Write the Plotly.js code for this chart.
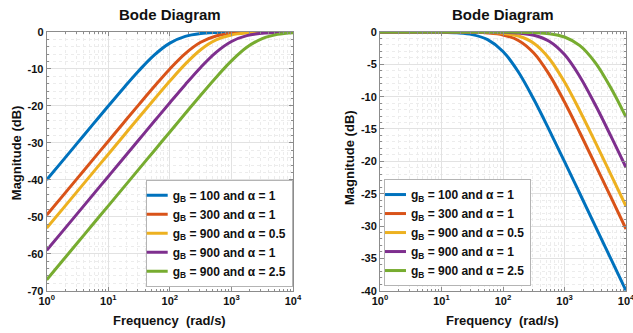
<!DOCTYPE html>
<html>
<head>
<meta charset="utf-8">
<script src="https://cdn.plot.ly/plotly-3.0.1.min.js"></script>
<style>html,body{margin:0;padding:0;background:#fff;}#chart{width:633px;height:333px;}</style>
</head>
<body>
<div id="chart"></div>
<script>
// Frequencies (rad/s)
const freq = [1, 1.778, 3.162, 5.623, 10, 17.78, 31.62, 56.23, 100, 177.8, 316.2, 562.3, 1000, 1778, 3162, 5623, 10000];

// Series names
const seriesNames = [
  'g<sub>B</sub> = 100 and α = 1',
  'g<sub>B</sub> = 300 and α = 1',
  'g<sub>B</sub> = 900 and α = 0.5',
  'g<sub>B</sub> = 900 and α = 1',
  'g<sub>B</sub> = 900 and α = 2.5'
];
const colors = ['#0072BD', '#D95319', '#EDB120', '#7E2F8E', '#77AC30'];

// Left panel magnitudes (dB)
const hpBlue   = [-40.0,-35.0,-30.0,-25.01,-20.04,-15.13,-10.41,-6.19,-3.01,-1.19,-0.41,-0.14,-0.04,-0.01,0,0,0];
const hpRed    = [-49.54,-44.54,-39.54,-34.54,-29.55,-24.55,-19.59,-14.69,-10.0,-5.85,-2.79,-1.09,-0.37,-0.12,-0.04,-0.01,0];
const hpYellow = [-53.06,-48.06,-43.06,-38.06,-33.06,-28.07,-23.08,-18.13,-13.27,-8.69,-4.80,-2.15,-0.80,-0.27,-0.09,-0.03,-0.01];
const hpPurple = [-59.08,-54.08,-49.08,-44.08,-39.08,-34.08,-29.09,-24.10,-19.13,-14.25,-9.59,-5.51,-2.57,-0.99,-0.34,-0.11,-0.04];
const hpGreen  = [-67.04,-62.04,-57.04,-52.04,-47.04,-42.04,-37.04,-32.05,-27.05,-22.07,-17.12,-12.30,-7.82,-4.15,-1.78,-0.65,-0.21];

// Right panel magnitudes (dB)
const lpBlue   = [0,0,0,-0.01,-0.04,-0.14,-0.41,-1.19,-3.01,-6.19,-10.41,-15.13,-20.04,-25.01,-30.0,-35.0,-40.0];
const lpRed    = [0,0,0,0,-0.01,-0.02,-0.05,-0.15,-0.46,-1.31,-3.25,-6.55,-10.83,-15.58,-20.50,-25.47,-30.46];
const lpYellow = [0,0,0,0,0,-0.01,-0.02,-0.07,-0.21,-0.63,-1.74,-4.09,-7.74,-12.21,-17.03,-21.97,-26.94];
const lpPurple = [0,0,0,0,0,0,-0.01,-0.02,-0.05,-0.17,-0.51,-1.43,-3.50,-6.91,-11.26,-16.03,-20.96];
const lpGreen  = [0,0,0,0,0,0,0,0,-0.01,-0.03,-0.09,-0.26,-0.78,-2.11,-4.74,-8.60,-13.17];

// Tick labels
const xTickVals = [1, 10, 100, 1000, 10000];
const xTickText = ['10<sup>0</sup>', '10<sup>1</sup>', '10<sup>2</sup>', '10<sup>3</sup>', '10<sup>4</sup>'];
const yLeftVals = [-70, -60, -50, -40, -30, -20, -10, 0];
const yLeftText = ['-70', '-60', '-50', '-40', '-30', '-20', '-10', '0'];
const yRightVals = [-40, -35, -30, -25, -20, -15, -10, -5, 0];
const yRightText = ['-40', '-35', '-30', '-25', '-20', '-15', '-10', '-5', '0'];

const FONT = 'Liberation Sans, Arial, Helvetica, sans-serif';
const AX = '#8c8c8c';
const bold = s => '<b>' + s + '</b>';

const minorX = [];
xTickVals.slice(0, -1).forEach(d => { for (let k = 2; k <= 9; k++) minorX.push(d * k); });

const leftSeries = [hpBlue, hpRed, hpYellow, hpPurple, hpGreen];
const rightSeries = [lpBlue, lpRed, lpYellow, lpPurple, lpGreen];

const traces = [];
leftSeries.forEach((ys, i) => traces.push({
  x: freq, y: ys, type: 'scatter', mode: 'lines', name: bold(seriesNames[i]),
  line: {color: colors[i], width: 3, shape: 'spline'},
  xaxis: 'x', yaxis: 'y', legend: 'legend'
}));
rightSeries.forEach((ys, i) => traces.push({
  x: freq, y: ys, type: 'scatter', mode: 'lines', name: bold(seriesNames[i]),
  line: {color: colors[i], width: 3, shape: 'spline'},
  xaxis: 'x2', yaxis: 'y2', legend: 'legend2'
}));

function xAxis(domain, anchor) {
  return {
    domain: domain, anchor: anchor, type: 'log', range: [0, 4],
    tickmode: 'array', tickvals: xTickVals, ticktext: xTickText.map(bold),
    showline: true, linecolor: AX, linewidth: 1, mirror: 'ticks',
    ticks: 'inside', ticklen: 4, tickcolor: AX,
    showgrid: true, gridcolor: '#e2e2e2', gridwidth: 1, zeroline: false,
    minor: {tickmode: 'array', tickvals: minorX, showgrid: true, gridcolor: '#ececec', griddash: 'dot', ticks: 'inside', ticklen: 2, tickcolor: AX},
    tickfont: {family: FONT, size: 11, color: '#111'},
    ticklabeloverflow: 'allow',
    automargin: false
  };
}
function yAxis(domain, anchor, range, vals, text, mdt) {
  return {
    domain: domain, anchor: anchor, range: range,
    tickmode: 'array', tickvals: vals, ticktext: text.map(bold),
    showline: true, linecolor: AX, linewidth: 1, mirror: 'ticks',
    ticks: 'inside', ticklen: 4, tickcolor: AX,
    showgrid: true, gridcolor: '#e2e2e2', gridwidth: 1, zeroline: false,
    minor: {tickmode: 'linear', tick0: 0, dtick: mdt, showgrid: true, gridcolor: '#ececec', griddash: 'dot', ticks: 'inside', ticklen: 2, tickcolor: AX},
    tickfont: {family: FONT, size: 11, color: '#111'},
    ticklabeloverflow: 'allow',
    automargin: false
  };
}

const legendBase = {
  bgcolor: '#ffffff', bordercolor: '#b4b4b4', borderwidth: 1,
  font: {family: FONT, size: 12, color: '#111'},
  tracegroupgap: 0, itemclick: false, indentation: -14
};

const yDom = [0.127, 0.904];
function ann(text, x, y, size, angle) {
  return {text: bold(text), x: x, y: y, xref: 'paper', yref: 'paper',
    xanchor: 'center', yanchor: 'middle', showarrow: false, textangle: angle || 0,
    font: {family: FONT, size: size, color: '#111'}};
}

const layout = {
  width: 633, height: 333,
  margin: {l: 0, r: 0, t: 0, b: 0},
  paper_bgcolor: '#ffffff', plot_bgcolor: '#ffffff',
  showlegend: true,
  xaxis: xAxis([0.0738, 0.4629], 'y'),
  yaxis: yAxis(yDom, 'x', [-70, 0], yLeftVals, yLeftText, 2),
  xaxis2: xAxis([0.6003, 0.989], 'y2'),
  yaxis2: yAxis(yDom, 'x2', [-40, 0], yRightVals, yRightText, 1),
  legend: Object.assign({x: 0.4624, xanchor: 'right', y: 0.139, yanchor: 'bottom'}, legendBase),
  legend2: Object.assign({x: 0.6066, xanchor: 'left', y: 0.141, yanchor: 'bottom'}, legendBase),
  annotations: [
    ann('Bode Diagram', 0.2683, 0.955, 15),
    ann('Bode Diagram', 0.7946, 0.955, 15),
    ann('Frequency  (rad/s)', 0.2683, 0.039, 13),
    ann('Frequency  (rad/s)', 0.7946, 0.039, 13),
    ann('Magnitude (dB)', 0.0253, 0.54, 13, -90),
    ann('Magnitude (dB)', 0.5513, 0.5285, 13, -90)
  ]
};

Plotly.newPlot('chart', traces, layout, {staticPlot: true, displayModeBar: false});
</script>
</body>
</html>
